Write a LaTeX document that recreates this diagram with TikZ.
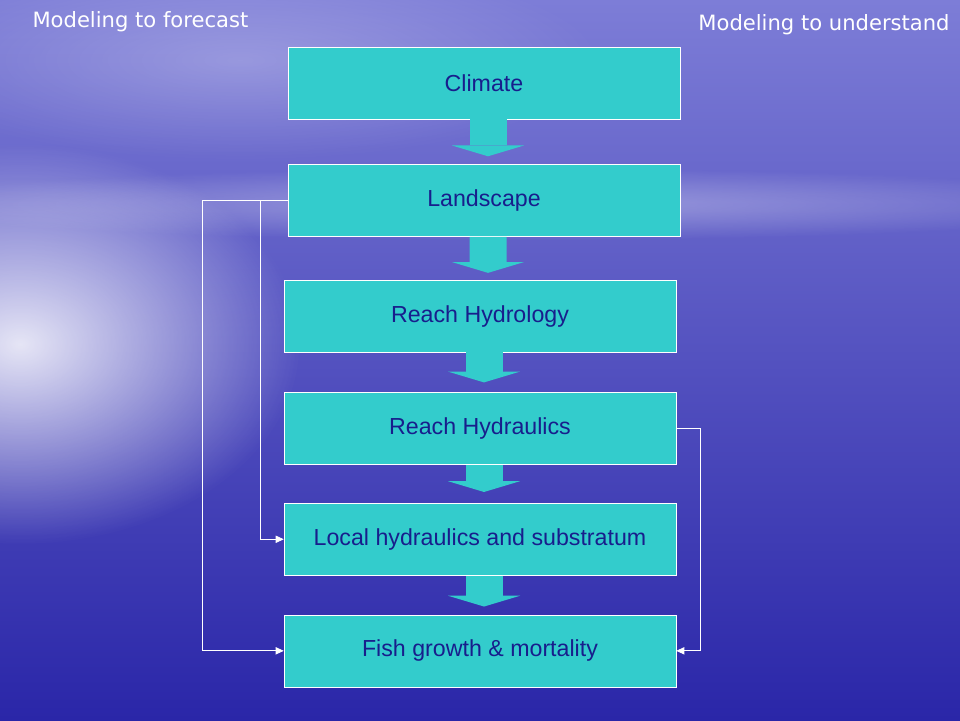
\documentclass[tikz,border=0pt]{standalone}
\usepackage{fontspec}
\setmainfont{Liberation Sans}
\newfontfamily\headfont{DejaVu Sans}
\usetikzlibrary{positioning}
\usetikzlibrary{arrows.meta}
\usetikzlibrary{calc}
\usetikzlibrary{fadings}
\definecolor{boxfill}{RGB}{51,204,204}
\definecolor{boxtext}{RGB}{24,30,140}
\definecolor{bgtop}{RGB}{125,125,215}
\definecolor{bgmid}{RGB}{80,78,196}
\definecolor{bgbot}{RGB}{42,38,168}
\tikzfading[name=glow, inner color=transparent!0, outer color=transparent!100]

\begin{document}
\begin{tikzpicture}[y=-1cm, >={Triangle[length=0.2cm,width=0.18cm]},
    main node/.style={rectangle,draw=white,line width=0.4pt,fill=boxfill,
        minimum width=9.8cm,minimum height=1.8cm,text=boxtext,
        font=\fontsize{16.5}{18}\selectfont},
    head/.style={text=white,font=\headfont\fontsize{15}{18}\selectfont},
    link/.style={draw=white,line width=0.6pt,->},
    block arrow/.style={draw=boxfill,line width=0.925cm,
        -{Triangle[length=0.27cm,width=1.8cm,line width=0pt]}}]
      % sky and sea
      \useasboundingbox (0,0) rectangle (24,18);
      \shade[top color=bgtop, middle color=bgmid, bottom color=bgbot] (0,0) rectangle (24,18);
      \fill[white, opacity=0.35, path fading=glow] (13,5.1) ellipse (16 and 0.9);
      \fill[white, opacity=0.85, path fading=glow] (0.5,8.6) ellipse (7 and 5);
      \fill[white, opacity=0.25, path fading=glow] (6,1.5) ellipse (9 and 2.5);

      \node[head] (forecast) at (3.51,0.55) {Modeling to forecast};
      \node[head] (understand) at (20.6,0.62) {Modeling to understand};

      \node[main node] (climate) at (12.1,2.075) {Climate};
      \node[main node] (landscape) [below=1.125cm of climate] {Landscape};
      \node[main node] (hydrology) [below=1.075cm of landscape, xshift=-0.1cm] {Reach Hydrology};
      \node[main node] (hydraulics) [below=1cm of hydrology] {Reach Hydraulics};
      \node[main node] (local) [below=0.95cm of hydraulics] {Local hydraulics and substratum};
      \node[main node] (fish) [below=0.975cm of local] {Fish growth \& mortality};

      \path[block arrow] ([xshift=0.1cm]climate.south) -- ([xshift=0.1cm,yshift=0.2cm]landscape.north);
      \path[block arrow] ([xshift=0.1cm]landscape.south) -- ([xshift=0.2cm,yshift=0.175cm]hydrology.north);
      \path[block arrow] ([xshift=0.1cm]hydrology.south) -- ([xshift=0.1cm,yshift=0.25cm]hydraulics.north);
      \path[block arrow] ([xshift=0.1cm]hydraulics.south) -- ([xshift=0.1cm,yshift=0.275cm]local.north);
      \path[block arrow] ([xshift=0.1cm]local.south) -- ([xshift=0.1cm,yshift=0.2cm]fish.north);

      \draw[link] (landscape.west) -- ++(-2.125,0) |- (fish.west);
      \draw[link] ([xshift=-0.675cm]landscape.west) |- (local.west);
      \draw[link] (hydraulics.east) -- ++(0.6,0) |- (fish.east);
\end{tikzpicture}
\end{document}
